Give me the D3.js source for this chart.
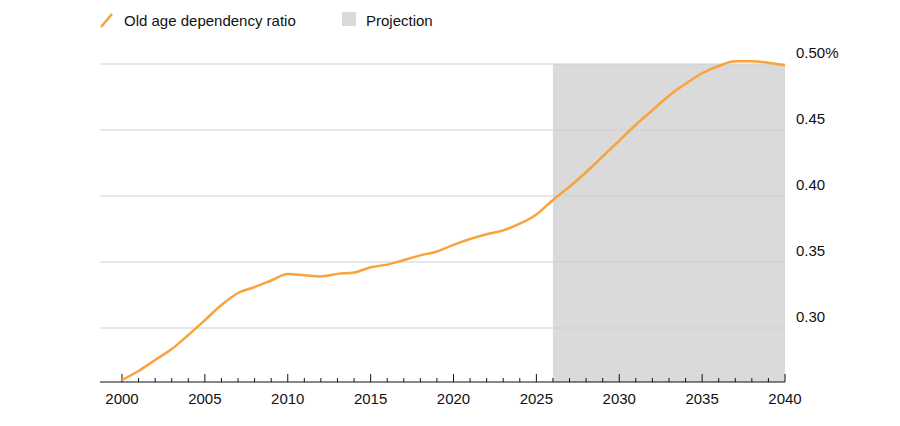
<!DOCTYPE html>
<html><head><meta charset="utf-8">
<script src="https://cdn.jsdelivr.net/npm/d3@7"></script>
<style>body{margin:0;background:#fff;font-family:Arial,"Liberation Sans",sans-serif;}</style>
</head><body><svg id="chart" width="900" height="426"></svg>
<script>
const years = d3.range(2000, 2041);
const ratios = [0.2606,0.2674,0.2758,0.284,0.2947,0.306,0.3174,0.3265,0.331,0.336,0.341,
  0.340,0.339,0.341,0.342,0.346,0.348,0.3515,0.355,0.358,0.363,0.3674,0.371,0.374,0.379,0.386,
  0.397,0.407,0.418,0.430,0.442,0.454,0.465,0.476,0.485,0.493,0.4985,0.502,0.502,0.501,0.499];
const projectionStart = 2026, projectionEnd = 2040;
const yTicks = [0.30, 0.35, 0.40, 0.45, 0.50];
const yLabels = ["0.30","0.35","0.40","0.45","0.50%"];
const xTicks = [2000,2005,2010,2015,2020,2025,2030,2035,2040];

const svg = d3.select("#chart");
const x = d3.scaleLinear().domain([2000, 2040]).range([122, 785]);
const y = d3.scaleLinear().domain([0.30, 0.50]).range([328, 64]);
const baseY = 382;

svg.append("rect")
  .attr("x", x(projectionStart)).attr("y", y(0.50))
  .attr("width", x(projectionEnd) - x(projectionStart))
  .attr("height", baseY - y(0.50))
  .attr("fill", "#dadada");

yTicks.forEach((t, i) => {
  svg.append("line").attr("x1", 100).attr("x2", 785)
    .attr("y1", y(t)).attr("y2", y(t))
    .attr("stroke", "#d0d0d0").attr("stroke-width", 1);
  svg.append("text").attr("x", 796).attr("y", y(t) - 6)
    .attr("font-size", 15).attr("fill", "#111").text(yLabels[i]);
});

svg.append("line").attr("x1", 100).attr("x2", 785)
  .attr("y1", baseY).attr("y2", baseY).attr("stroke", "#111");

years.forEach(yr => {
  const major = yr % 5 === 0;
  svg.append("line").attr("x1", x(yr)).attr("x2", x(yr))
    .attr("y1", baseY).attr("y2", baseY - (major ? 8 : 4))
    .attr("stroke", "#111");
});
xTicks.forEach(t => {
  svg.append("text").attr("x", x(t)).attr("y", 404)
    .attr("text-anchor", "middle").attr("font-size", 15).attr("fill", "#111").text(t);
});

const line = d3.line().x((d, i) => x(years[i])).y(d => y(d)).curve(d3.curveMonotoneX);
svg.append("path").datum(ratios).attr("d", line)
  .attr("fill", "none").attr("stroke", "#f9a33a").attr("stroke-width", 2.5);

// legend
svg.append("line").attr("x1", 101).attr("y1", 27).attr("x2", 112).attr("y2", 14)
  .attr("stroke", "#f9a33a").attr("stroke-width", 2.5);
svg.append("text").attr("x", 124).attr("y", 26).attr("font-size", 15).attr("fill", "#111")
  .text("Old age dependency ratio");
svg.append("rect").attr("x", 342).attr("y", 12).attr("width", 14).attr("height", 14).attr("fill", "#dadada");
svg.append("text").attr("x", 366).attr("y", 26).attr("font-size", 15).attr("fill", "#111")
  .text("Projection");
</script></body></html>
